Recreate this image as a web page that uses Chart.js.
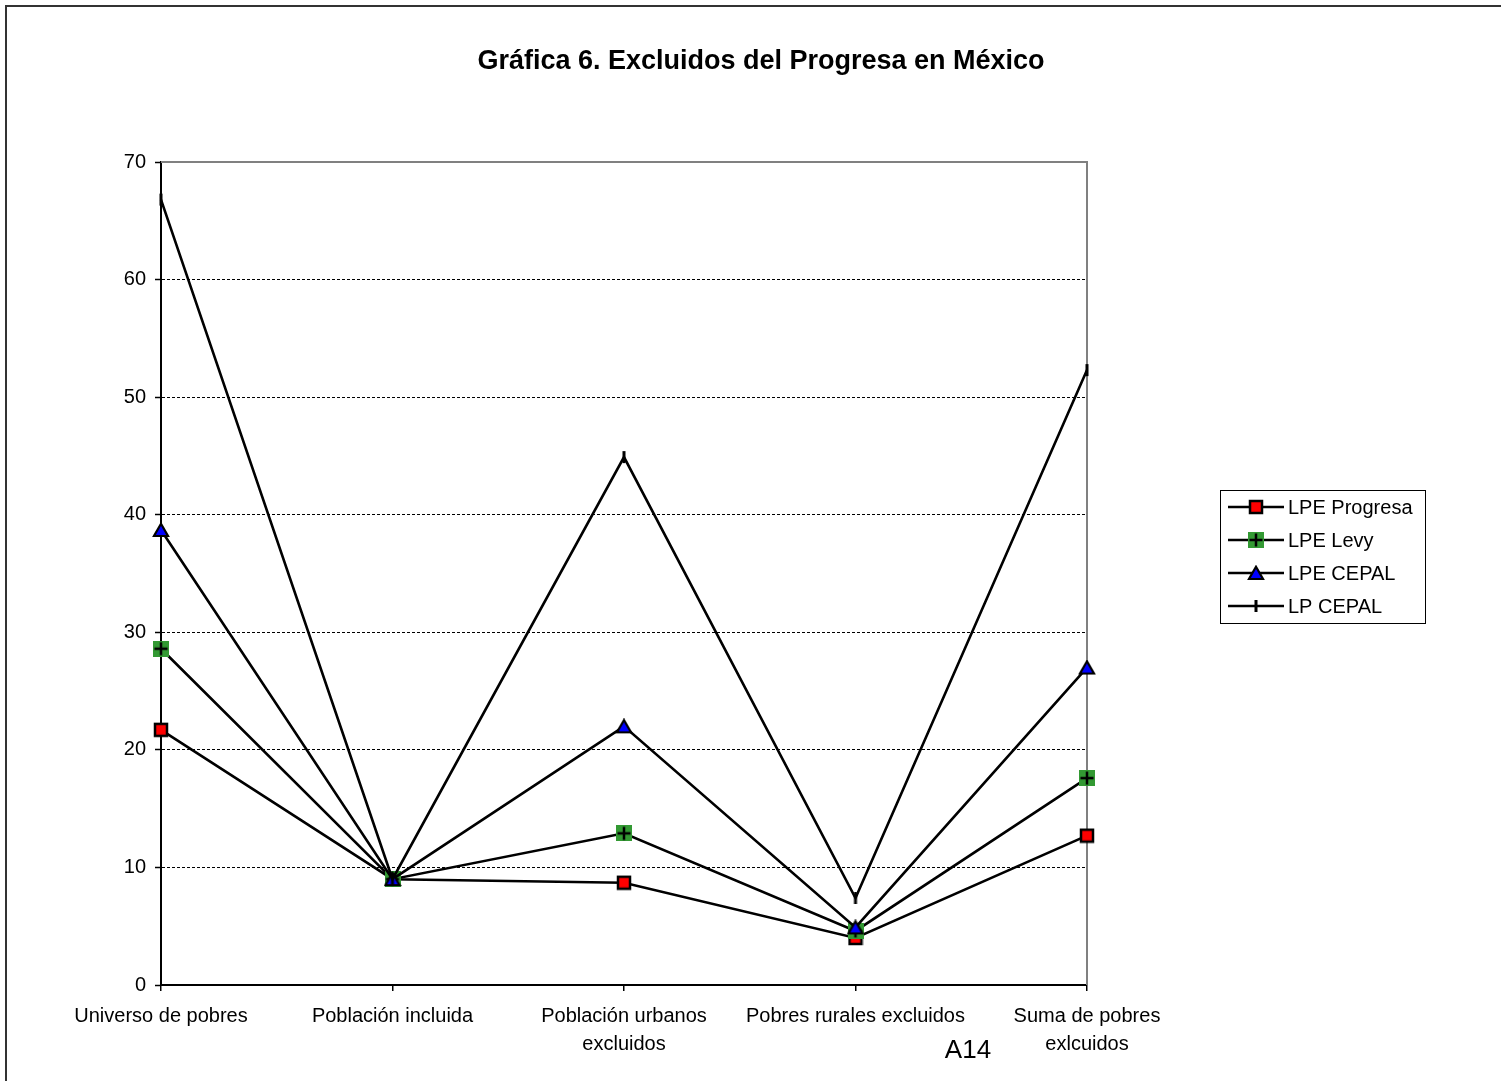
<!DOCTYPE html>
<html>
<head>
<meta charset="utf-8">
<script src="https://cdn.jsdelivr.net/npm/chart.js@4/dist/chart.umd.min.js"></script>
<style>
html,body{margin:0;padding:0;background:#fff;}
#wrap{position:relative;width:1501px;height:1081px;}
</style>
</head>
<body>
<div id="wrap"><canvas id="c" width="1501" height="1081"></canvas></div>
<script>
const categories = [
  "Universo de pobres",
  "Población incluida",
  ["Población urbanos", "excluidos"],
  "Pobres rurales excluidos",
  ["Suma de pobres", "exlcuidos"]
];
const seriesNames = ["LPE Progresa", "LPE Levy", "LPE CEPAL", "LP CEPAL"];
const lpeProgresa = [21.7, 9.0, 8.7, 4.0, 12.7];
const lpeLevy = [28.6, 9.0, 12.9, 4.6, 17.6];
const lpeCepal = [38.7, 9.0, 22.0, 4.9, 27.0];
const lpCepal = [66.8, 9.0, 44.9, 7.4, 52.3];
const yTicks = [0, 10, 20, 30, 40, 50, 60, 70];
const chartTitle = "Gráfica 6. Excluidos del Progresa en México";
const footNote = "A14";

const FONT = "Arial, 'Liberation Sans', sans-serif";

function mk(w, h, fn) {
  const c = document.createElement('canvas');
  c.width = w; c.height = h;
  fn(c.getContext('2d'), w, h);
  return c;
}
const mSquare = mk(16, 16, (g) => {
  g.fillStyle = '#ff0000'; g.fillRect(2, 2, 12, 12);
  g.strokeStyle = '#000'; g.lineWidth = 2.5; g.strokeRect(2, 2, 12, 12);
});
const mPlus = mk(16, 16, (g) => {
  g.fillStyle = '#339933'; g.fillRect(0, 0, 16, 16);
  g.strokeStyle = '#000'; g.lineWidth = 2.5;
  g.beginPath(); g.moveTo(8, 1.5); g.lineTo(8, 14.5); g.moveTo(1.5, 8); g.lineTo(14.5, 8); g.stroke();
});
const mTri = mk(18, 16, (g) => {
  g.fillStyle = '#0000ff'; g.strokeStyle = '#000'; g.lineWidth = 2.2; g.lineJoin = 'miter';
  g.beginPath(); g.moveTo(9, 1.8); g.lineTo(16, 14); g.lineTo(2, 14); g.closePath(); g.fill(); g.stroke();
});
const mDash = mk(6, 14, (g) => {
  g.fillStyle = '#000'; g.fillRect(1.5, 1, 3, 12);
});
const markers = [mSquare, mPlus, mTri, mDash];

const allData = [lpeProgresa, lpeLevy, lpeCepal, lpCepal];

const decor = {
  id: 'decor',
  beforeDatasetsDraw(chart) {
    const ctx = chart.ctx, a = chart.chartArea;
    ctx.save();
    ctx.strokeStyle = '#808080'; ctx.lineWidth = 2;
    ctx.beginPath();
    ctx.moveTo(a.left, a.top); ctx.lineTo(a.right, a.top); ctx.lineTo(a.right, a.bottom);
    ctx.stroke();
    ctx.restore();
  },
  afterDraw(chart) {
    const ctx = chart.ctx;
    ctx.save();
    // outer frame
    ctx.strokeStyle = '#333'; ctx.lineWidth = 2;
    ctx.beginPath(); ctx.moveTo(6, 1081); ctx.lineTo(6, 6); ctx.lineTo(1501, 6); ctx.stroke();
    // title
    ctx.fillStyle = '#000';
    ctx.font = 'bold 27px ' + FONT; ctx.textAlign = 'center'; ctx.textBaseline = 'middle';
    ctx.fillText(chartTitle, 761, 62);
    // legend
    const lx = 1220.5, ly = 490.5, lw = 205, lh = 133;
    ctx.strokeStyle = '#000'; ctx.lineWidth = 1;
    ctx.strokeRect(lx, ly, lw, lh);
    ctx.font = '20px ' + FONT;
    ctx.textBaseline = 'middle'; ctx.textAlign = 'left';
    for (let i = 0; i < seriesNames.length; i++) {
      const y = 507 + i * 33;
      ctx.strokeStyle = '#000'; ctx.lineWidth = 2.5;
      ctx.beginPath(); ctx.moveTo(1228, y); ctx.lineTo(1284, y); ctx.stroke();
      const m = markers[i];
      ctx.drawImage(m, Math.round(1255.5 - m.width / 2), Math.round(y - m.height / 2));
      ctx.fillText(seriesNames[i], 1288, y + 1);
    }
    // footnote
    ctx.font = '26px ' + FONT; ctx.textAlign = 'center';
    ctx.fillText(footNote, 968, 1051);
    ctx.restore();
  }
};

const orders = [4, 3, 2, 1];
const datasets = allData.map((d, i) => ({
  label: seriesNames[i],
  data: d,
  borderColor: '#000',
  borderWidth: 2.6,
  pointStyle: markers[i],
  pointRadius: 7,
  pointHoverRadius: 7,
  fill: false,
  tension: 0,
  order: orders[i]
}));

new Chart(document.getElementById('c'), {
  type: 'line',
  data: { labels: categories, datasets },
  plugins: [decor],
  options: {
    responsive: false,
    animation: false,
    events: [],
    layout: { padding: { left: 0, right: 414, top: 162, bottom: 0 } },
    plugins: {
      legend: { display: false },
      tooltip: { enabled: false },
      title: { display: false }
    },
    scales: {
      x: {
        offset: false,
        grid: { display: true, drawOnChartArea: false, drawTicks: true, tickLength: 6, color: '#000', lineWidth: 1.5 },
        border: { display: true, color: '#000', width: 2 },
        ticks: { color: '#000', font: { family: FONT, size: 20, lineHeight: 1.4 }, padding: 11, maxRotation: 0, autoSkip: false },
        afterFit(s) { s.height = 96; s.paddingLeft = 0; s.paddingRight = 0; }
      },
      y: {
        min: 0, max: 70,
        afterBuildTicks(s) { s.ticks = yTicks.map(v => ({ value: v })); },
        grid: {
          display: true, drawTicks: true, tickLength: 6,
          color: (c) => (c.tick && (c.tick.value === 0 || c.tick.value === 70)) ? 'rgba(0,0,0,0)' : '#000',
          lineWidth: 1,
          tickColor: '#000', tickWidth: 1.5, tickBorderDash: []
        },
        border: { display: true, color: '#000', width: 2, dash: [3, 2] },
        ticks: { color: '#000', font: { family: FONT, size: 20 }, padding: 9 },
        afterFit(s) { s.width = 161; s.paddingTop = 0; s.paddingBottom = 0; }
      }
    }
  }
});
</script>
</body>
</html>
